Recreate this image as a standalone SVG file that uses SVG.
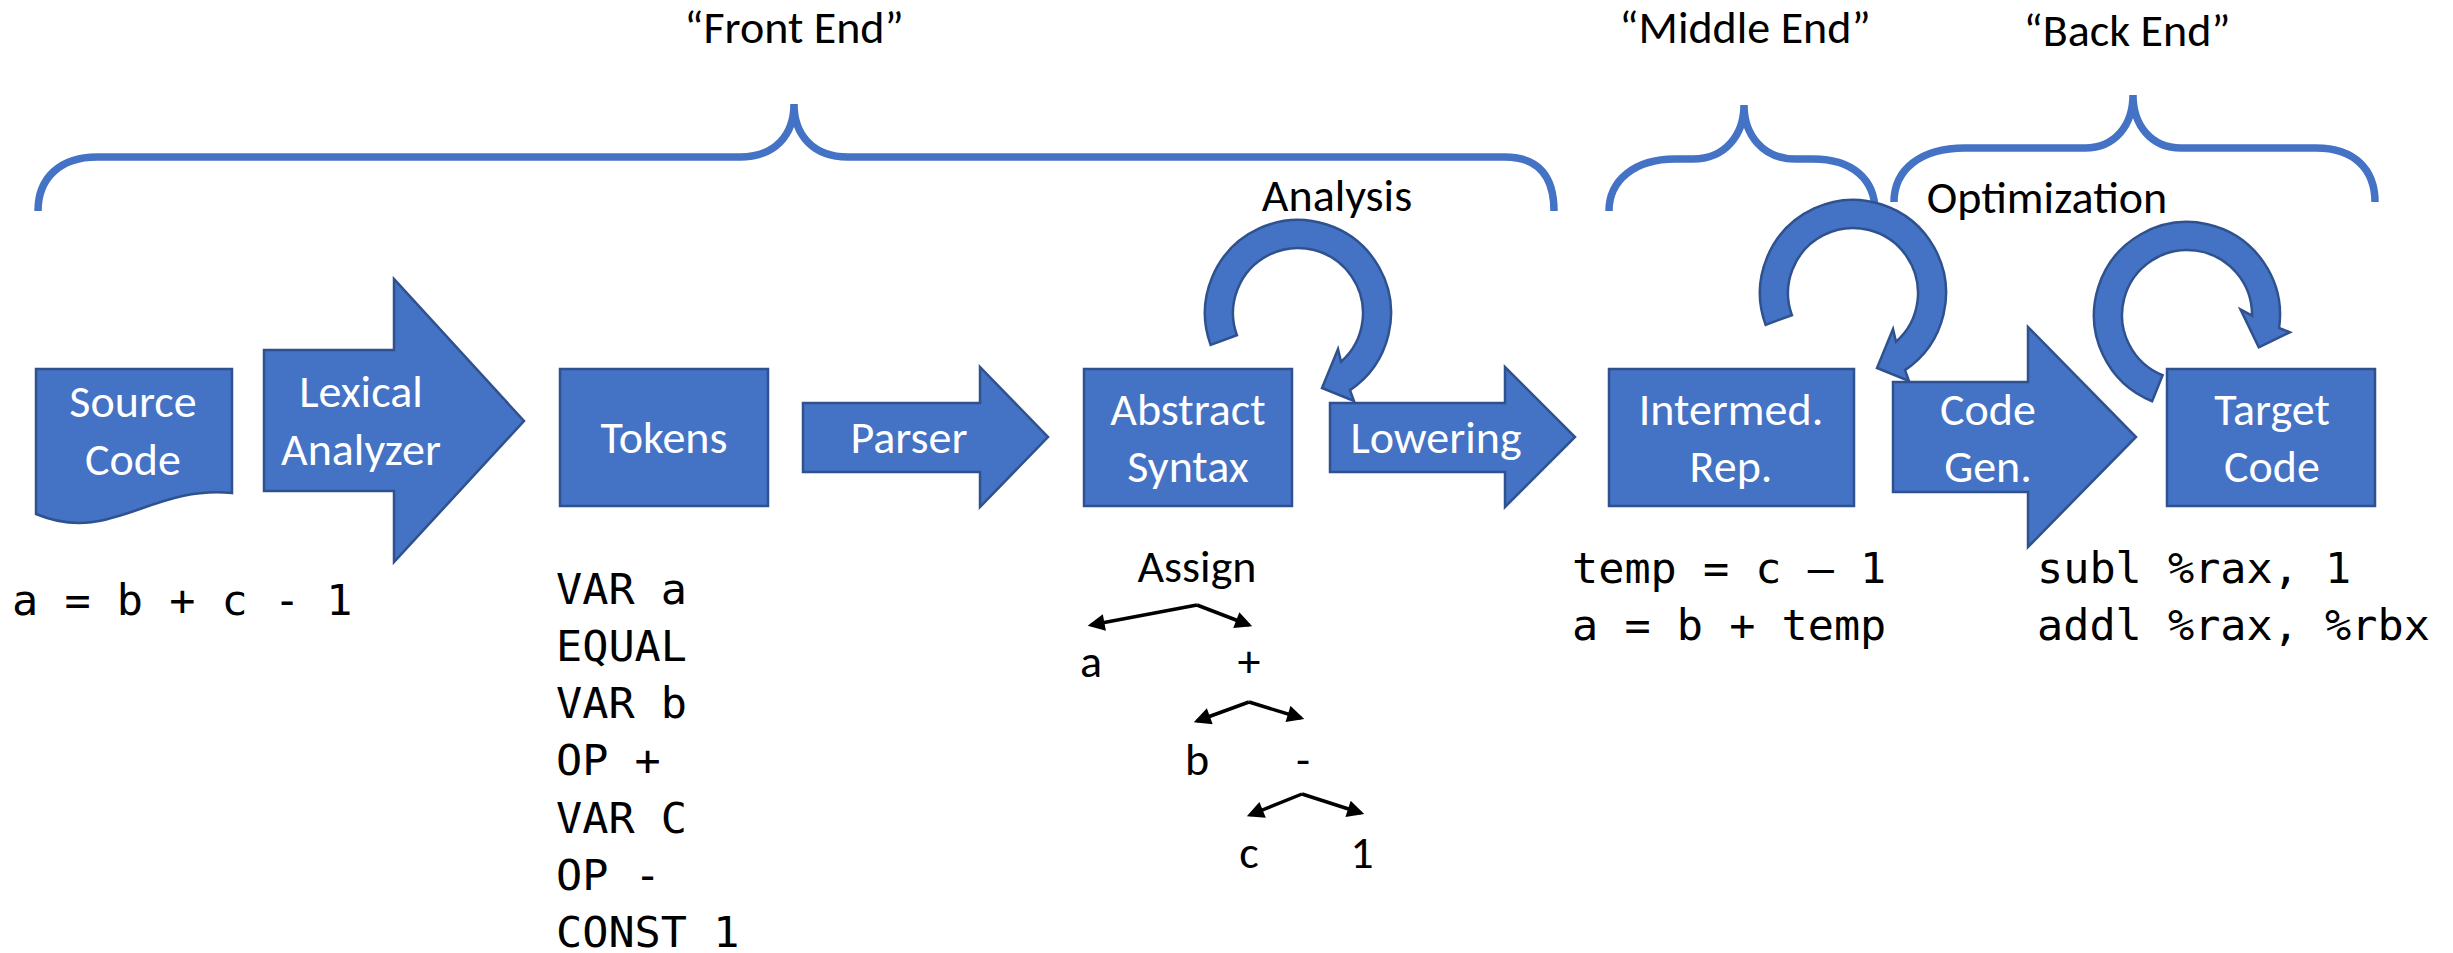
<svg xmlns="http://www.w3.org/2000/svg" xmlns:xlink="http://www.w3.org/1999/xlink" width="2453" height="953" viewBox="0 0 2453 953">
<style>
.shape{fill:#4472C4;stroke:#2F528F;stroke-width:2.5;stroke-linejoin:miter}
.brace{fill:none;stroke:#4472C4;stroke-width:7.5}
.lbl{font-family:Carlito,Lato,sans-serif;font-size:46px;fill:#FFFFFF;text-anchor:middle}
.hd{font-family:Carlito,Lato,sans-serif;font-size:46px;fill:#000000;text-anchor:middle}
.code{font-family:"DejaVu Sans Mono",monospace;font-size:43.5px;fill:#000000}
.edge{fill:none;stroke:#000000;stroke-width:3.5}
</style>
<defs>
<path id="loop" d="M-87.4,31.8 A93,93 0 1 1 52,77.1 L56,88 L24,75 L40,36 L43,48.8 A65,65 0 1 0 -61.1,22.2 Z"/>
<marker id="ah" viewBox="0 0 10 10" refX="8" refY="5" markerWidth="20" markerHeight="17" orient="auto" markerUnits="userSpaceOnUse">
<path d="M0,0 L10,5 L0,10 Z" fill="#000000"/>
</marker>
</defs>
<rect width="2453" height="953" fill="#FFFFFF"/>

<g id="braces">
<path class="brace" d="M38,211 C38,178 60,157 97,157 L740,157 C775,157 794,135 794,104 C794,135 813,157 848,157 L1505,157 C1540,157 1554,178 1554,211"/>
<path class="brace" d="M1609,211 C1609,180 1635,159 1675,159 L1693,159 C1725,159 1744,135 1744,105 C1744,135 1763,159 1795,159 L1813,159 C1853,159 1875,180 1875,211"/>
<path class="brace" d="M1894,202 C1894,170 1920,148 1965,148 L2085,148 C2115,148 2133,125 2133,95 C2133,125 2151,148 2181,148 L2316,148 C2355,148 2375,170 2375,202"/>
<text class="hd" x="794" y="43">“Front End”</text>
<text class="hd" x="1745" y="43">“Middle End”</text>
<text class="hd" x="2127" y="46">“Back End”</text>
</g>

<g id="source-code">
<path class="shape" d="M36,369 H232 V493 C150,485 110,545 36,514 Z"/>
<text class="lbl" x="133" y="417">Source</text>
<text class="lbl" x="133" y="475">Code</text>
</g>

<g id="lexical-analyzer">
<path class="shape" d="M264,350 H394 V279 L524,421 L394,562 V491 H264 Z"/>
<text class="lbl" x="361" y="407">Lexical</text>
<text class="lbl" x="361" y="465">Analyzer</text>
</g>

<g id="tokens">
<rect class="shape" x="560" y="369" width="208" height="137"/>
<text class="lbl" x="664" y="453">Tokens</text>
</g>

<g id="parser">
<path class="shape" d="M803,403 H980 V367 L1048,437 L980,507 V472 H803 Z"/>
<text class="lbl" x="909" y="453">Parser</text>
</g>

<g id="abstract-syntax">
<rect class="shape" x="1084" y="369" width="208" height="137"/>
<text class="lbl" x="1188" y="425">Abstract</text>
<text class="lbl" x="1188" y="482">Syntax</text>
</g>

<g id="lowering">
<path class="shape" d="M1330,403 H1505 V367 L1575,437 L1505,507 V472 H1330 Z"/>
<text class="lbl" x="1436" y="453">Lowering</text>
</g>

<g id="intermed-rep">
<rect class="shape" x="1609" y="369" width="245" height="137"/>
<text class="lbl" x="1731" y="425">Intermed.</text>
<text class="lbl" x="1731" y="482">Rep.</text>
</g>

<g id="code-gen">
<path class="shape" d="M1893,382 H2028 V327 L2136,437 L2028,547 V492 H1893 Z"/>
<text class="lbl" x="1988" y="425">Code</text>
<text class="lbl" x="1988" y="482">Gen.</text>
</g>

<g id="target-code">
<rect class="shape" x="2167" y="369" width="208" height="137"/>
<text class="lbl" x="2272" y="425">Target</text>
<text class="lbl" x="2272" y="482">Code</text>
</g>

<g id="analysis-loop">
<use xlink:href="#loop" href="#loop" class="shape" transform="translate(1298,313)"/>
<text class="hd" x="1337" y="211">Analysis</text>
</g>

<g id="middle-loop">
<use xlink:href="#loop" href="#loop" class="shape" transform="translate(1853,293)"/>
</g>

<g id="back-loop">
<use xlink:href="#loop" href="#loop" class="shape" transform="translate(2187,315) rotate(-48)"/>
<text class="hd" x="2047" y="213">Optimization</text>
</g>

<g id="source-text">
<text class="code" x="12" y="615">a = b + c - 1</text>
</g>

<g id="token-list">
<text class="code" x="556" y="604">VAR a</text>
<text class="code" x="556" y="661">EQUAL</text>
<text class="code" x="556" y="718">VAR b</text>
<text class="code" x="556" y="775">OP +</text>
<text class="code" x="556" y="833">VAR C</text>
<text class="code" x="556" y="890">OP -</text>
<text class="code" x="556" y="947">CONST 1</text>
</g>

<g id="ir-text">
<text class="code" x="1572" y="583">temp = c – 1</text>
<text class="code" x="1572" y="640">a = b + temp</text>
</g>

<g id="target-text">
<text class="code" x="2037" y="583">subl %rax, 1</text>
<text class="code" x="2037" y="640">addl %rax, %rbx</text>
</g>

<g id="tree">
<text class="hd" x="1197" y="582">Assign</text>
<text class="hd" x="1091" y="677">a</text>
<text class="hd" x="1249" y="677">+</text>
<text class="hd" x="1197" y="775">b</text>
<text class="hd" x="1303" y="775">-</text>
<text class="hd" x="1249" y="868">c</text>
<text class="hd" x="1362" y="868">1</text>
</g>

<g id="connectors">
<path class="edge" marker-end="url(#ah)" d="M1197,605 L1091,625"/>
<path class="edge" marker-end="url(#ah)" d="M1197,605 L1249,625"/>
<path class="edge" marker-end="url(#ah)" d="M1249,702 L1197,721"/>
<path class="edge" marker-end="url(#ah)" d="M1249,702 L1301,718"/>
<path class="edge" marker-end="url(#ah)" d="M1302,794 L1250,815"/>
<path class="edge" marker-end="url(#ah)" d="M1302,794 L1361,813"/>
</g>
</svg>
